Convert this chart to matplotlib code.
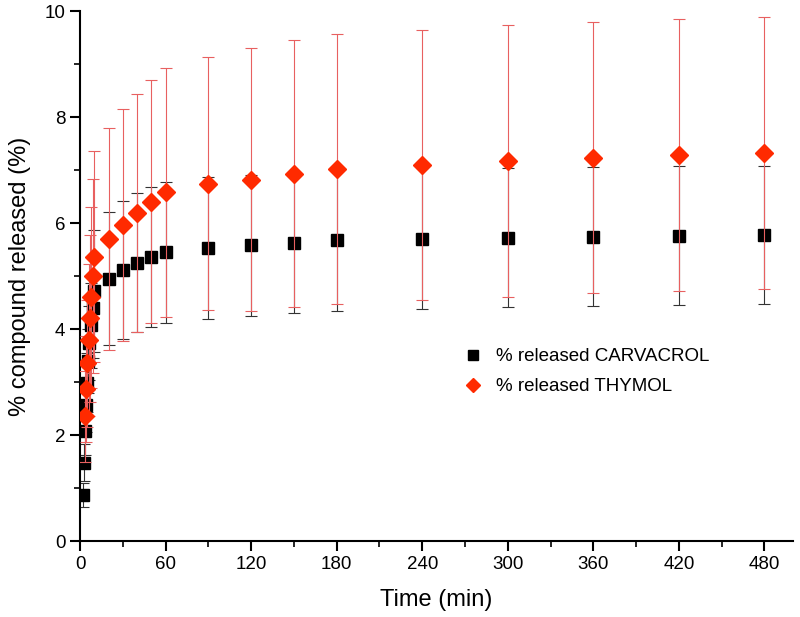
import matplotlib
matplotlib.use("Agg")
import matplotlib.pyplot as plt
import numpy as np
from matplotlib.ticker import MultipleLocator
from matplotlib.lines import Line2D

plt.rcParams['font.family'] = ['Liberation Sans', 'DejaVu Sans']

# CARVACROL
t_carv = [2, 3, 3.7, 4.3, 5, 5.8, 6.6, 7.7, 8.9, 10,
          20, 30, 40, 50, 60, 90, 120, 150, 180, 240, 300, 360, 420, 480]
y_carv = [0.87, 1.48, 2.08, 2.56, 2.99, 3.40, 3.74, 4.07, 4.40, 4.71,
          4.95, 5.11, 5.25, 5.36, 5.45, 5.53, 5.58, 5.63, 5.67, 5.70, 5.72, 5.74, 5.76, 5.78]
e_carv = [0.22, 0.35, 0.45, 0.5, 0.55, 0.6, 0.7, 0.8, 0.95, 1.15,
          1.26, 1.30, 1.31, 1.32, 1.33, 1.34, 1.33, 1.33, 1.33, 1.33, 1.31, 1.31, 1.31, 1.30]

# THYMOL
t_thym = [3.5, 4.2, 4.9, 6.1, 7, 7.7, 8.9, 9.6,
          20, 30, 40, 50, 60, 90, 120, 150, 180, 240, 300, 360, 420, 480]
y_thym = [2.35, 2.86, 3.35, 3.79, 4.20, 4.60, 5.00, 5.36,
          5.70, 5.96, 6.19, 6.40, 6.58, 6.74, 6.82, 6.93, 7.02, 7.10, 7.17, 7.23, 7.28, 7.32]
e_thym = [0.85, 1.0, 1.2, 1.43, 1.58, 1.71, 1.83, 1.99,
          2.09, 2.19, 2.25, 2.29, 2.35, 2.39, 2.48, 2.52, 2.54, 2.55, 2.56, 2.56, 2.56, 2.57]

labels = ['% released CARVACROL', '% released THYMOL']

fig = plt.figure(figsize=(8, 6.17), dpi=100)
ax = fig.add_axes([80/800, 1 - 541/617, (793-80)/800, (541-11)/617])

ax.errorbar(t_carv, y_carv, yerr=e_carv, fmt='s', color='black', ms=8.5,
            ecolor='#333333', elinewidth=0.8, capsize=4, capthick=0.8, zorder=2)
ax.errorbar(t_thym, y_thym, yerr=e_thym, fmt='D', color='#ff2a00', ms=9,
            mec='#ff2a00', ecolor='#e86060', elinewidth=0.8, capsize=4, capthick=0.8,
            zorder=3)

ax.set_xlim(0, 500)
ax.set_ylim(0, 10)
ax.xaxis.set_major_locator(MultipleLocator(60))
ax.xaxis.set_minor_locator(MultipleLocator(30))
ax.yaxis.set_major_locator(MultipleLocator(2))
ax.yaxis.set_minor_locator(MultipleLocator(1))
ax.spines['top'].set_visible(False)
ax.spines['right'].set_visible(False)
ax.spines['left'].set_linewidth(1.5)
ax.spines['bottom'].set_linewidth(1.5)
ax.tick_params(which='major', direction='out', length=7, width=1.5, labelsize=13.5)
ax.tick_params(which='minor', direction='out', length=4, width=1.2)

ax.set_xlabel('Time (min)', fontsize=17, labelpad=12)
ax.set_ylabel('% compound released (%)', fontsize=17, labelpad=10)

handles = [Line2D([], [], ls='none', marker='s', color='black', ms=7),
           Line2D([], [], ls='none', marker='D', color='#ff2a00', ms=7)]
ax.legend(handles, labels, loc='upper left', bbox_to_anchor=(464/800, 1 - 348/617),
          bbox_transform=fig.transFigure, frameon=False, borderpad=0, borderaxespad=0,
          fontsize=13.5, handlelength=1, handletextpad=0.7, labelspacing=0.7)

fig.savefig('out.png', dpi=100)
